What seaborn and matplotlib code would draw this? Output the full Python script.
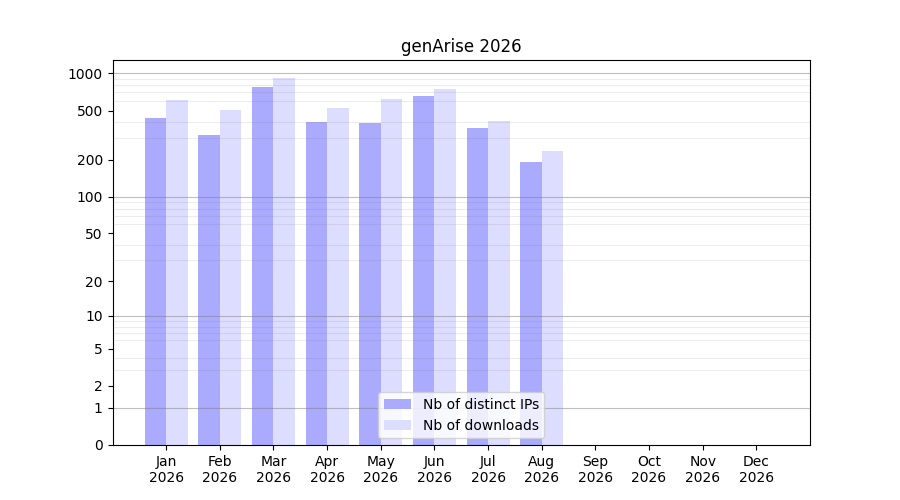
import numpy as np
import pandas as pd
import matplotlib
matplotlib.use("Agg")
import matplotlib.pyplot as plt
from matplotlib.ticker import FixedLocator
import seaborn as sns

months = ["Jan", "Feb", "Mar", "Apr", "May", "Jun", "Jul", "Aug", "Sep", "Oct", "Nov", "Dec"]
year = "2026"
distinct_ips = [435, 317, 774, 404, 396, 655, 361, 191, 0, 0, 0, 0]
downloads = [608, 505, 916, 524, 619, 746, 411, 235, 0, 0, 0, 0]
series_names = ["Nb of distinct IPs", "Nb of downloads"]
ytick_vals = [0, 1, 2, 5, 10, 20, 50, 100, 200, 500, 1000]
decades = [1, 10, 100, 1000]
minor_vals = [m * d for d in [1, 10, 100] for m in range(2, 10)]

labels = [f"{m}\n{year}" for m in months]
df = pd.DataFrame({
    "month": labels * 2,
    "value": distinct_ips + downloads,
    "series": [series_names[0]] * 12 + [series_names[1]] * 12,
})

fig, ax = plt.subplots(figsize=(9, 5), dpi=100)

def fwd(x):
    return np.log10(np.clip(1 + np.asarray(x, dtype=float), 1e-9, None))

def inv(y):
    return 10 ** np.asarray(y, dtype=float) - 1

sns.barplot(data=df, x="month", y="value", hue="series", order=labels,
            hue_order=series_names,
            palette={series_names[0]: "#aaaaff", series_names[1]: "#ddddff"},
            saturation=1, width=0.8, ax=ax)

ax.set_yscale("function", functions=(fwd, inv))
ax.set_ylim(0, 1280)
ax.set_xlim(-1, 12)
ax.set_yticks(ytick_vals)
ax.set_yticklabels([str(v) for v in ytick_vals])
ax.yaxis.set_minor_locator(FixedLocator(minor_vals))
ax.tick_params(axis="y", which="minor", length=0)
ax.set_axisbelow(False)
ax.grid(which="minor", axis="y", color="gray", alpha=0.15, lw=0.8)
ax.grid(which="major", axis="both", visible=False)
for d in decades:
    ax.axhline(d, color="gray", alpha=0.5, lw=0.8)

ax.set_xlabel("")
ax.set_ylabel("")
ax.set_title(f"genArise {year}")
sns.move_legend(ax, "lower center", title=None)

fig.subplots_adjust(left=0.125, right=0.9, top=0.88, bottom=0.11)
fig.savefig("out.png", dpi=100)
